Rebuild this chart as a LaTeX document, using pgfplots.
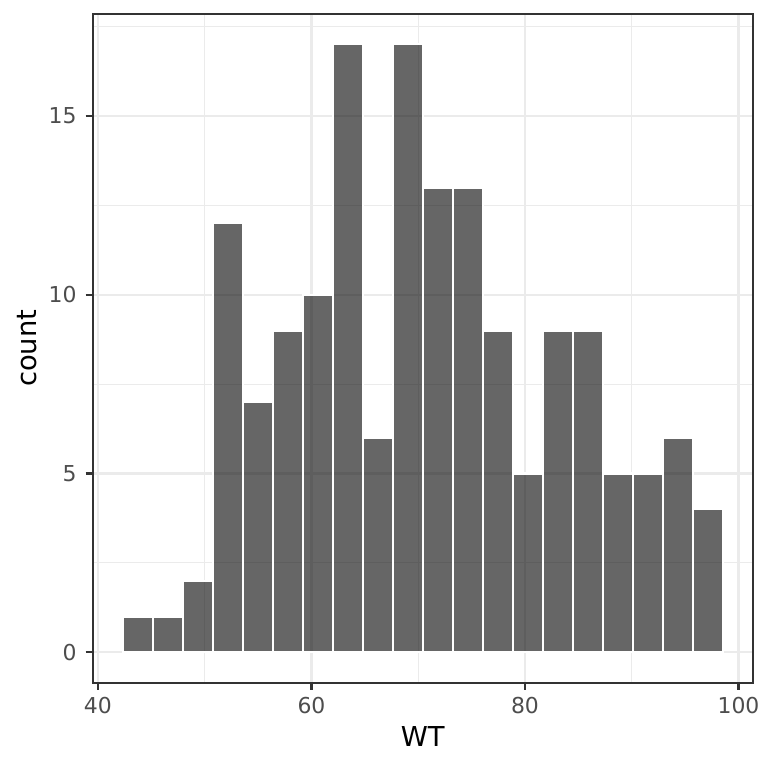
\documentclass[border=0pt]{standalone}
\usepackage{pgfplots}
\pgfplotsset{compat=1.18}
\usepackage{fontspec}
\setmainfont{DejaVu Sans}
\definecolor{gridc}{HTML}{EBEBEB}
\definecolor{grey20}{HTML}{333333}
\definecolor{grey30}{HTML}{4D4D4D}
\begin{document}
\begin{tikzpicture}
\useasboundingbox (-92.7bp,-85.3bp) rectangle (675.3bp,682.7bp);
\begin{axis}[
  at={(0,0)}, anchor=south west,
  scale only axis, width=660bp, height=668.7bp,
  xmin=39.51, xmax=101.33, ymin=-0.85, ymax=17.85,
  xtick={40,60,80,100}, ytick={0,5,10,15},
  minor xtick={50,70,90}, minor ytick={2.5,7.5,12.5,17.5},
  grid=both,
  major grid style={color=gridc, line width=2.2bp},
  minor grid style={color=gridc, line width=1.1bp},
  tick align=outside, tick pos=left,
  major tick length=7bp, minor tick length=0pt,
  major tick style={color=grey20, line width=2.2bp},
  axis line style={color=grey20, line width=1.8bp},
  /pgf/number format/assume math mode=true,
  ticklabel style={font=\fontsize{22}{26}\selectfont, text=grey30, inner sep=0pt},
  xticklabel style={anchor=north, yshift=-7.3bp},
  yticklabel style={anchor=east, xshift=-9bp},
  xlabel={WT}, ylabel={count},
  label style={font=\fontsize{27.5}{32}\selectfont, text=black, inner sep=0pt},
  xlabel style={at={(axis description cs:0.5,-0.0957)}, anchor=base},
  ylabel style={at={(axis description cs:-0.0848,0.5)}, anchor=base},
]
\addplot[ybar interval, fill=black, fill opacity=0.6, draw=white, line width=2.2bp]
coordinates {
(42.32,1) (45.13,1) (47.94,2) (50.75,12) (53.56,7) (56.37,9) (59.18,10)
(61.99,17) (64.80,6) (67.61,17) (70.42,13) (73.23,13) (76.04,9) (78.85,5)
(81.66,9) (84.47,9) (87.28,5) (90.09,5) (92.90,6) (95.71,4) (98.52,0)
};
\end{axis}
\end{tikzpicture}
\end{document}
